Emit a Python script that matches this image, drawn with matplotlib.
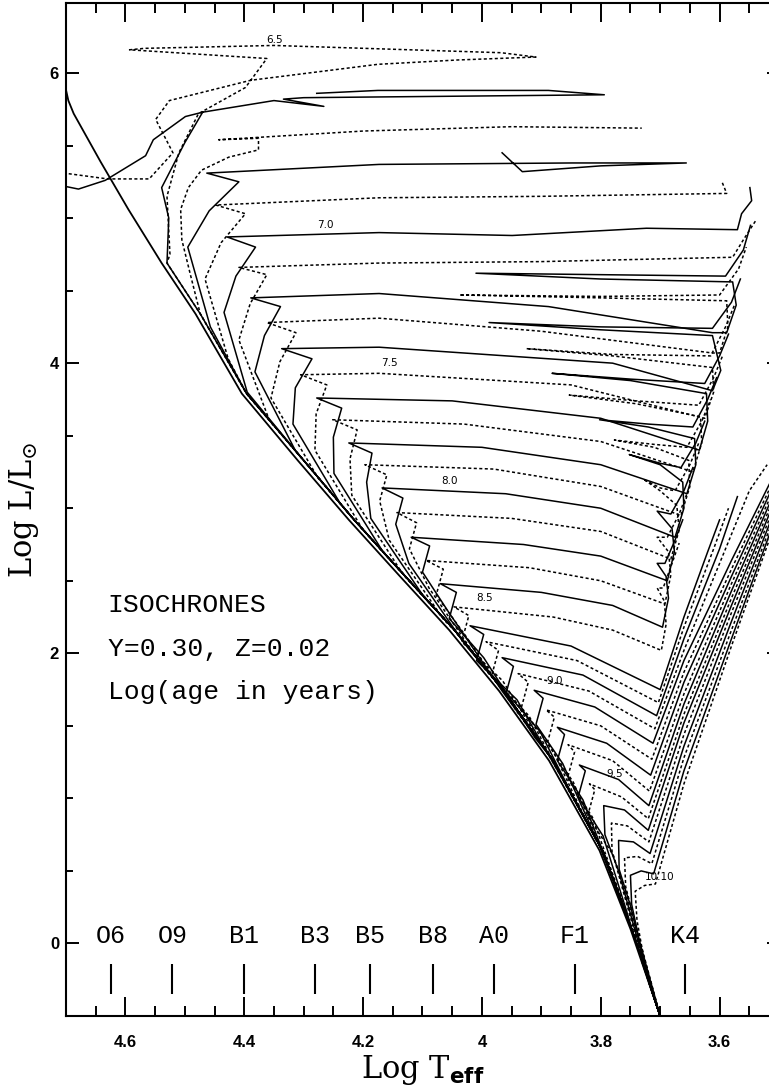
import numpy as np
import matplotlib.pyplot as plt
from matplotlib.ticker import MultipleLocator, FuncFormatter

plt.rcParams['mathtext.fontset'] = 'custom'
plt.rcParams['mathtext.rm'] = 'DejaVu Serif'
plt.rcParams['mathtext.bf'] = 'DejaVu Sans:bold'

# zero-age main sequence (log Teff, log L)
zams_T = [4.703, 4.696, 4.687, 4.642, 4.595, 4.539, 4.482, 4.404, 4.31, 4.224,
          4.14, 4.055, 3.971, 3.887, 3.802, 3.75, 3.70]
zams_L = [5.94, 5.81, 5.72, 5.39, 5.06, 4.69, 4.34, 3.79, 3.33, 2.92,
          2.54, 2.16, 1.74, 1.26, 0.64, 0.10, -0.50]

# lower main sequence common to the isochrones
lowms_T = [3.700, 3.748, 3.797, 3.880, 3.963, 4.046, 4.131, 4.215, 4.300, 4.396, 4.474, 4.530]
lowms_L = [-0.50, 0.10, 0.64, 1.26, 1.74, 2.16, 2.54, 2.92, 3.33, 3.79, 4.34, 4.69]

# isochrones, (log Teff, log L) from where they leave the lower MS; None = pen up
iso_065 = [(4.525, 4.75), (4.53, 5.15), (4.51, 5.45), (4.477, 5.72), (4.398, 5.90), (4.362, 6.10),
           (4.593, 6.16), (4.568, 6.17), (4.350, 6.19), (3.968, 6.14), (3.909, 6.11), (4.040, 6.09),
           (4.175, 6.06), (4.389, 5.95), (4.526, 5.81), (4.549, 5.68), (4.520, 5.45), (4.560, 5.27),
           (4.630, 5.27), (4.703, 5.31)]
iso_066 = [(4.527, 5.00), (4.539, 5.21), (4.500, 5.52), (4.470, 5.73), (4.350, 5.81), (4.266, 5.77),
           (4.334, 5.82), (4.300, 5.83), (3.794, 5.85), (3.888, 5.88), (4.175, 5.88), (4.278, 5.86),
           None, (4.703, 5.22), (4.679, 5.20), (4.634, 5.26), (4.566, 5.43), (4.553, 5.54),
           (4.499, 5.70), (4.470, 5.73)]
iso_067 = [(4.490, 4.60), (4.505, 4.85), (4.507, 5.06), (4.494, 5.21), (4.472, 5.33), (4.426, 5.42),
           (4.376, 5.47), (4.376, 5.55), (4.443, 5.54), (4.200, 5.60), (3.950, 5.63), (3.731, 5.62)]
iso_068 = [(4.457, 4.25), (4.495, 4.80), (4.459, 5.05), (4.409, 5.25), (4.463, 5.31), (4.173, 5.37),
           (3.848, 5.38), (3.656, 5.38), (3.800, 5.36), (3.932, 5.32), (3.966, 5.45)]
iso_069 = [(4.427, 4.03), (4.466, 4.58), (4.439, 4.83), (4.398, 5.03), (4.448, 5.09), (4.173, 5.14),
           (3.900, 5.15), (3.588, 5.17), (3.596, 5.25)]
iso_070 = [(4.395, 3.80), (4.434, 4.35), (4.414, 4.60), (4.381, 4.80), (4.429, 4.87), (4.173, 4.90),
           (3.949, 4.88), (3.723, 4.93), (3.570, 4.92), (3.563, 5.03), (3.546, 5.12), (3.549, 5.21)]
iso_071 = [(4.358, 3.61), (4.409, 4.16), (4.390, 4.41), (4.362, 4.61), (4.409, 4.66), (4.173, 4.69),
           (3.900, 4.70), (3.578, 4.73), (3.560, 4.85), (3.538, 4.99)]
iso_072 = [(4.313, 3.39), (4.382, 3.94), (4.366, 4.19), (4.339, 4.39), (4.389, 4.45), (4.173, 4.48),
           (3.888, 4.39), (3.612, 4.21), (3.588, 4.21), (3.572, 4.40), (3.578, 4.56), (3.800, 4.58),
           (4.010, 4.62), (3.800, 4.61), (3.590, 4.60), (3.560, 4.78), (3.548, 4.95)]
iso_073 = [(4.276, 3.21), (4.355, 3.76), (4.340, 4.01), (4.313, 4.21), (4.362, 4.28), (4.173, 4.31),
           (3.900, 4.22), (3.612, 4.07), (3.600, 4.07), (3.586, 4.25), (3.588, 4.43), (3.800, 4.45),
           (4.038, 4.47), (3.800, 4.46), (3.600, 4.47), (3.568, 4.65), (3.555, 4.80)]
iso_074 = [(4.238, 3.03), (4.318, 3.58), (4.314, 3.83), (4.286, 4.03), (4.337, 4.10), (4.173, 4.11),
           (3.780, 4.00), (3.612, 3.81), (3.598, 3.95), (3.612, 4.19), (3.800, 4.23), (3.988, 4.28),
           (3.800, 4.25), (3.612, 4.24), (3.580, 4.42), (3.565, 4.58)]
iso_075 = [(4.200, 2.85), (4.281, 3.40), (4.279, 3.65), (4.261, 3.85), (4.305, 3.92), (4.173, 3.93),
           (3.850, 3.85), (3.625, 3.62), (3.610, 3.80), (3.612, 3.97), (3.780, 4.05), (3.925, 4.10),
           (3.780, 4.06), (3.615, 4.05), (3.590, 4.25), (3.575, 4.40)]
iso_076 = [(4.165, 2.69), (4.249, 3.24), (4.250, 3.49), (4.236, 3.69), (4.278, 3.76), (4.050, 3.74),
           (3.800, 3.62), (3.634, 3.40), (3.620, 3.60), (3.622, 3.79), (3.750, 3.88), (3.882, 3.93),
           (3.750, 3.89), (3.625, 3.86), (3.600, 4.05), (3.585, 4.20)]
iso_077 = [(4.132, 2.54), (4.219, 3.09), (4.222, 3.34), (4.210, 3.54), (4.251, 3.61), (4.030, 3.58),
           (3.800, 3.46), (3.645, 3.25), (3.630, 3.45), (3.632, 3.63), (3.740, 3.72), (3.853, 3.78),
           (3.740, 3.74), (3.635, 3.71), (3.610, 3.90), (3.595, 4.05)]
iso_078 = [(4.096, 2.38), (4.187, 2.93), (4.194, 3.18), (4.185, 3.38), (4.224, 3.45), (4.000, 3.42),
           (3.800, 3.30), (3.655, 3.10), (3.640, 3.30), (3.642, 3.48), (3.720, 3.56), (3.802, 3.61),
           (3.720, 3.58), (3.645, 3.56), (3.620, 3.75), (3.605, 3.90)]
iso_079 = [(4.064, 2.23), (4.156, 2.78), (4.172, 3.05), (4.160, 3.23), (4.197, 3.30), (3.980, 3.27),
           (3.800, 3.15), (3.665, 2.95), (3.650, 3.15), (3.652, 3.33), (3.710, 3.42), (3.777, 3.47),
           (3.710, 3.44), (3.655, 3.42), (3.630, 3.60), (3.615, 3.75)]
iso_080 = [(4.030, 2.07), (4.123, 2.62), (4.145, 2.89), (4.133, 3.07), (4.168, 3.14), (3.960, 3.10),
           (3.800, 3.00), (3.675, 2.80), (3.660, 3.00), (3.662, 3.18), (3.700, 3.30), (3.752, 3.37),
           (3.700, 3.31), (3.665, 3.28), (3.640, 3.45), (3.625, 3.60)]
iso_081 = [(3.997, 1.90), (4.089, 2.45), (4.122, 2.72), (4.110, 2.90), (4.143, 2.97), (3.950, 2.93),
           (3.800, 2.84), (3.682, 2.65), (3.668, 2.85), (3.672, 3.02), (3.700, 3.12), (3.728, 3.20),
           (3.700, 3.14), (3.675, 3.12), (3.650, 3.30), (3.635, 3.45)]
iso_082 = [(3.966, 1.74), (4.057, 2.29), (4.100, 2.56), (4.088, 2.74), (4.119, 2.80), (3.930, 2.75),
           (3.800, 2.67), (3.688, 2.50), (3.676, 2.70), (3.680, 2.86), (3.705, 2.98), (3.682, 2.96),
           (3.660, 3.12), (3.645, 3.28)]
iso_083 = [(3.938, 1.58), (4.029, 2.13), (4.077, 2.40), (4.065, 2.58), (4.094, 2.64), (3.920, 2.59),
           (3.800, 2.50), (3.692, 2.34), (3.682, 2.54), (3.686, 2.70), (3.705, 2.80), (3.688, 2.80),
           (3.668, 2.96), (3.655, 3.10)]
iso_084 = [(3.911, 1.42), (3.997, 1.97), (4.055, 2.24), (4.043, 2.42), (4.070, 2.48), (3.900, 2.42),
           (3.780, 2.33), (3.696, 2.18), (3.686, 2.38), (3.690, 2.53), (3.705, 2.62), (3.692, 2.62),
           (3.675, 2.78), (3.662, 2.92)]
iso_085 = [(3.882, 1.26), (3.965, 1.81), (4.034, 2.08), (4.022, 2.26), (4.047, 2.32), (3.880, 2.25),
           (3.780, 2.16), (3.698, 2.02), (3.690, 2.20), (3.693, 2.36), (3.705, 2.45), (3.695, 2.45),
           (3.680, 2.62), (3.668, 2.76)]
iso_086 = [(3.864, 1.13), (3.941, 1.68), (4.009, 1.95), (3.997, 2.13), (4.020, 2.19), (3.850, 2.05),
           (3.700, 1.75), (3.660, 2.25), (3.620, 2.70), (3.600, 2.92)]
iso_087 = [(3.849, 1.02), (3.921, 1.57), (3.984, 1.84), (3.972, 2.02), (3.993, 2.08), (3.840, 1.95),
           (3.703, 1.66), (3.660, 2.18), (3.610, 2.72), (3.585, 3.00)]
iso_088 = [(3.834, 0.91), (3.902, 1.46), (3.959, 1.73), (3.947, 1.91), (3.966, 1.97), (3.830, 1.85),
           (3.706, 1.57), (3.660, 2.10), (3.600, 2.72), (3.570, 3.08)]
iso_089 = [(3.819, 0.80), (3.883, 1.35), (3.934, 1.62), (3.922, 1.80), (3.939, 1.86), (3.820, 1.74),
           (3.709, 1.48), (3.660, 2.02), (3.590, 2.72), (3.550, 3.12), (3.520, 3.30)]
iso_090 = [(3.804, 0.69), (3.864, 1.24), (3.909, 1.51), (3.897, 1.69), (3.912, 1.745), (3.810, 1.63),
           (3.712, 1.38), (3.660, 1.95), (3.580, 2.64), (3.500, 3.30)]
iso_091 = [(3.789, 0.56), (3.846, 1.11), (3.890, 1.38), (3.878, 1.56), (3.892, 1.61), (3.800, 1.50),
           (3.714, 1.27), (3.660, 1.87), (3.580, 2.58), (3.500, 3.27)]
iso_092 = [(3.778, 0.44), (3.830, 0.99), (3.873, 1.26), (3.861, 1.44), (3.873, 1.49), (3.790, 1.38),
           (3.716, 1.16), (3.660, 1.80), (3.580, 2.53), (3.500, 3.24)]
iso_093 = [(3.766, 0.32), (3.814, 0.87), (3.856, 1.14), (3.844, 1.32), (3.855, 1.37), (3.780, 1.26),
           (3.718, 1.05), (3.660, 1.72), (3.580, 2.48), (3.500, 3.21)]
iso_094 = [(3.754, 0.19), (3.796, 0.74), (3.838, 1.01), (3.826, 1.19), (3.836, 1.23), (3.770, 1.13),
           (3.719, 0.95), (3.660, 1.65), (3.580, 2.43), (3.500, 3.18)]
iso_095 = [(3.742, 0.06), (3.779, 0.61), (3.822, 0.88), (3.810, 1.06), (3.819, 1.10), (3.765, 1.01),
           (3.720, 0.86), (3.660, 1.58), (3.580, 2.38), (3.500, 3.15)]
iso_096 = [(3.733, -0.05), (3.770, 0.50), (3.793, 0.75), (3.795, 0.95), (3.760, 0.92), (3.720, 0.78),
           (3.660, 1.52), (3.580, 2.33), (3.500, 3.12)]
iso_097 = [(3.724, -0.17), (3.760, 0.38), (3.781, 0.63), (3.782, 0.83), (3.755, 0.81), (3.719, 0.70),
           (3.660, 1.44), (3.580, 2.28), (3.500, 3.09)]
iso_098 = [(3.717, -0.29), (3.750, 0.26), (3.769, 0.51), (3.770, 0.71), (3.745, 0.70), (3.717, 0.62),
           (3.660, 1.36), (3.580, 2.22), (3.500, 3.06)]
iso_099 = [(3.742, 0.14), (3.758, 0.39), (3.760, 0.59), (3.738, 0.60), (3.714, 0.55), (3.660, 1.28),
           (3.580, 2.16), (3.500, 3.03)]
iso_100 = [(3.735, 0.02), (3.748, 0.27), (3.750, 0.47), (3.732, 0.50), (3.711, 0.48), (3.660, 1.19),
           (3.580, 2.10), (3.500, 3.00)]
iso_101 = [(3.728, -0.09), (3.739, 0.16), (3.742, 0.36), (3.726, 0.40), (3.708, 0.41), (3.660, 1.10),
           (3.580, 2.05), (3.500, 2.97)]

isochrones = [iso_065, iso_066, iso_067, iso_068, iso_069, iso_070, iso_071, iso_072, iso_073,
              iso_074, iso_075, iso_076, iso_077, iso_078, iso_079, iso_080, iso_081, iso_082,
              iso_083, iso_084, iso_085, iso_086, iso_087, iso_088, iso_089, iso_090, iso_091,
              iso_092, iso_093, iso_094, iso_095, iso_096, iso_097, iso_098, iso_099, iso_100,
              iso_101]
ages = [6.5 + 0.1 * i for i in range(len(isochrones))]

# age labels written on the curves
age_labels = ['6.5', '7.0', '7.5', '8.0', '8.5', '9.0', '9.5', '10.10']
age_label_T = [4.349, 4.263, 4.156, 4.055, 3.996, 3.878, 3.777, 3.701]
age_label_L = [6.23, 4.95, 4.00, 3.19, 2.38, 1.81, 1.17, 0.455]

# spectral types along the bottom
sp_types = ['O6', 'O9', 'B1', 'B3', 'B5', 'B8', 'A0', 'F1', 'K4']
sp_T = [4.624, 4.521, 4.400, 4.281, 4.189, 4.082, 3.980, 3.844, 3.659]


def track(pts):
    start = pts[0][1]
    T = [t for t, l in zip(lowms_T, lowms_L) if l < start - 0.05]
    L = [l for l in lowms_L if l < start - 0.05]
    for p in pts:
        if p is None:
            T.append(np.nan)
            L.append(np.nan)
        else:
            T.append(p[0])
            L.append(p[1])
    return T, L


fig = plt.figure(figsize=(7.69, 10.9), dpi=100)
ax = fig.add_axes([0.0858, 0.0679, 0.9272, 0.929])

ax.plot(zams_T, zams_L, color='k', lw=1.3)
for age, pts in zip(ages, isochrones):
    T, L = track(pts)
    if round(age * 10) % 2 == 0:
        ax.plot(T, L, color='k', lw=1.1)
    else:
        ax.plot(T, L, color='k', lw=1.1, linestyle=(0, (2.0, 1.6)))

for lab, t, l in zip(age_labels, age_label_T, age_label_L):
    ax.text(t, l, lab, fontsize=7.5, family='DejaVu Sans', ha='center', va='center')

ax.vlines(sp_T, -0.345, -0.14, color='k', lw=1.5)
for s, t in zip(sp_types, sp_T):
    ax.text(t, 0.05, s, fontsize=18, family='Liberation Mono', ha='center', va='center')

ax.text(4.63, 2.33, 'ISOCHRONES', fontsize=19, family='Liberation Mono', va='center')
ax.text(4.63, 2.03, 'Y=0.30, Z=0.02', fontsize=19, family='Liberation Mono', va='center')
ax.text(4.63, 1.73, 'Log(age in years)', fontsize=19, family='Liberation Mono', va='center')

ax.set_xlim(4.7, 3.5)
ax.set_ylim(-0.5, 6.48)
ax.xaxis.set_major_locator(MultipleLocator(0.2))
ax.xaxis.set_minor_locator(MultipleLocator(0.05))
ax.yaxis.set_major_locator(MultipleLocator(2))
ax.yaxis.set_minor_locator(MultipleLocator(0.5))
ax.xaxis.set_major_formatter(FuncFormatter(lambda v, p: f'{v:g}'))
ax.yaxis.set_major_formatter(FuncFormatter(lambda v, p: f'{v:g}'))
ax.tick_params(axis='x', which='major', direction='in', top=True, length=14, width=1.4,
               labelsize=12, pad=14)
ax.tick_params(axis='x', which='minor', direction='in', top=True, length=7, width=1.4)
ax.tick_params(axis='y', which='major', direction='in', right=True, length=9, width=1.4,
               labelsize=12, pad=5)
ax.tick_params(axis='y', which='minor', direction='in', right=True, length=5, width=1.4)
for lab in ax.get_xticklabels() + ax.get_yticklabels():
    lab.set_family('Liberation Sans')
    lab.set_fontweight('bold')
for sp in ax.spines.values():
    sp.set_linewidth(1.5)

ax.set_xlabel(r'Log T$_{\mathbf{eff}}$', fontsize=22, family='DejaVu Serif', labelpad=2)
ax.set_ylabel(r'Log L/L$_{\odot}$', fontsize=22, family='DejaVu Serif', labelpad=6)

fig.savefig('out.png', dpi=100)
